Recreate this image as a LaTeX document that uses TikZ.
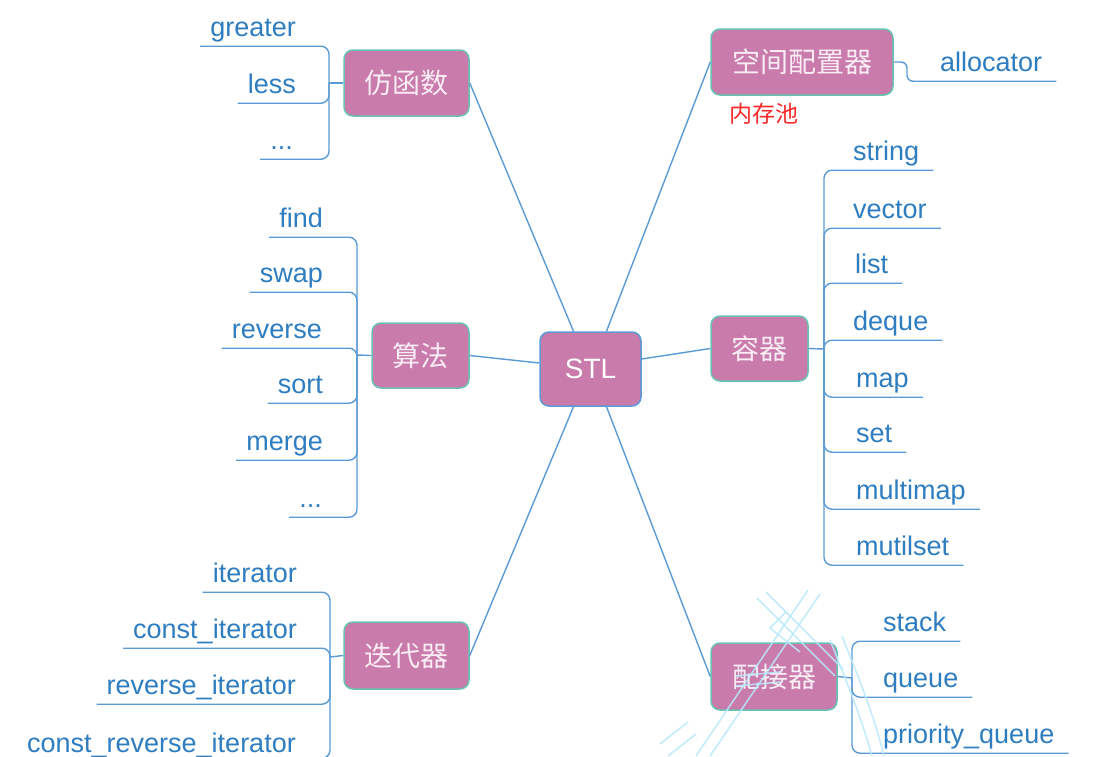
\documentclass[tikz,border=0pt]{standalone}
\usepackage{fontspec}
\setmainfont{Liberation Sans}
\newfontfamily\cjk{Noto Sans CJK SC}
\usetikzlibrary{calc}
\definecolor{nfill}{RGB}{201,123,171}
\definecolor{nborder}{RGB}{104,196,178}
\definecolor{cborder}{RGB}{91,155,213}
\definecolor{lnc}{RGB}{91,155,213}
\definecolor{leaftxt}{RGB}{46,125,192}
\definecolor{ntxt}{RGB}{250,236,245}
\definecolor{wmc}{RGB}{185,233,252}
\definecolor{redtxt}{RGB}{250,40,40}
\begin{document}
\begin{tikzpicture}[x=1pt,y=-1pt,
  box/.style={draw=nborder, fill=nfill, line width=1.5pt, rounded corners=9pt,
    text=ntxt, font=\cjk\fontsize{28}{28}\selectfont, inner sep=0pt},
  leafL/.style={anchor=base east, text=leaftxt, font=\fontsize{27}{27}\selectfont,
    inner xsep=10pt, inner ysep=0pt, text depth=10pt},
  leafR/.style={anchor=base west, text=leaftxt, font=\fontsize{27}{27}\selectfont,
    inner xsep=14pt, inner ysep=0pt, text depth=10pt},
  link/.style={draw=lnc, line width=1.4pt},
  brk/.style={link, rounded corners=8pt},
  wm/.style={draw=wmc, line width=1.6pt, opacity=0.85}
]
\useasboundingbox (0,0) rectangle (1120,756);
\clip (0,0) rectangle (1120,756);
\fill[white] (0,0) rectangle (1120,756);

% main nodes
\node[box, minimum width=125pt, minimum height=66pt] (fhs) at (406.5,83) {仿函数};
\node[box, minimum width=182pt, minimum height=66pt] (kj) at (802,62) {空间配置器};
\node[box, minimum width=97pt, minimum height=65pt] (sf) at (420.5,355.5) {算法};
\node[box, draw=cborder, text=white, font=\fontsize{28}{28}\selectfont,
      minimum width=101pt, minimum height=74pt] (stl) at (590.5,369) {STL};
\node[box, minimum width=97pt, minimum height=65pt] (rq) at (759.5,348.5) {容器};
\node[box, minimum width=125pt, minimum height=67pt] (ddq) at (406.5,655.5) {迭代器};
\node[box, minimum width=126pt, minimum height=67pt] (pjq) at (774,676.5) {配接器};
\node[text=redtxt, font=\cjk\fontsize{23}{23}\selectfont, inner sep=0pt] (ncc) at (763.5,114) {内存池};

% links from STL
\draw[link] ($(stl.north)+(-17,0)$) -- (fhs.east);
\draw[link] ($(stl.north)+(16,0)$) -- (kj.west);
\draw[link] ($(stl.west)+(0,-6)$) -- (sf.east);
\draw[link] ($(stl.east)+(0,-10)$) -- (rq.west);
\draw[link] ($(stl.south)+(-17,0)$) -- (ddq.east);
\draw[link] ($(stl.south)+(16,0)$) -- (pjq.west);

% 仿函数 leaves
\node[leafL] (greater) at (306,36) {greater};
\node[leafL] (less) at (306,93) {less};
\node[leafL] (fdots) at (303,149) {...};
\coordinate (fhsj) at (329,83);
\draw[link] (fhs.west) -- (fhsj);
\draw[brk] (fhsj) |- (greater.south west);
\draw[brk] (fhsj) |- (less.south west);
\draw[brk] (fhsj) |- (fdots.south west);

% 算法 leaves
\node[leafL] (find) at (333,227) {find};
\node[leafL] (swap) at (333,282) {swap};
\node[leafL] (reverse) at (332,338) {reverse};
\node[leafL] (sort) at (333,393) {sort};
\node[leafL] (merge) at (333,450) {merge};
\node[leafL] (sdots) at (332,507) {...};
\coordinate (sfj) at (357,355);
\draw[link] (sf.west) -- (sfj);
\foreach \n in {find,swap,reverse,sort,merge,sdots}
  \draw[brk] (sfj) |- (\n.south west);

% 迭代器 leaves
\node[leafL] (it) at (307,582) {iterator};
\node[leafL] (cit) at (307,638) {const\_iterator};
\node[leafL] (rit) at (306,694) {reverse\_iterator};
\node[leafL, text depth=6pt] (crit) at (306,752) {const\_reverse\_iterator};
\coordinate (ddqj) at (330,657);
\draw[link] (ddq.west) -- (ddqj);
\foreach \n in {it,cit,rit,crit}
  \draw[brk] (ddqj) |- (\n.south west);

% 容器 leaves
\node[leafR] (string) at (839,160) {string};
\node[leafR] (vector) at (839,218) {vector};
\node[leafR] (list) at (841,273) {list};
\node[leafR] (deque) at (839,330) {deque};
\node[leafR] (map) at (842,387) {map};
\node[leafR] (set) at (842,442) {set};
\node[leafR] (multimap) at (842,499) {multimap};
\node[leafR] (mutilset) at (842,555) {mutilset};
\coordinate (rqj) at (824,349);
\draw[link] (rq.east) -- (rqj);
\foreach \n in {string,vector,list,deque,map,set,multimap,mutilset}
  \draw[brk] (rqj) |- (\n.south east);

% 配接器 leaves
\node[leafR] (stack) at (869,631) {stack};
\node[leafR] (queue) at (869,687) {queue};
\node[leafR] (pq) at (869,743) {priority\_queue};
\coordinate (pjqj) at (852,678);
\draw[link] (pjq.east) -- (pjqj);
\foreach \n in {stack,queue,pq}
  \draw[brk] (pjqj) |- (\n.south east);

% 空间配置器 leaf
\node[leafR] (alloc) at (926,71) {allocator};
\coordinate (kjj) at (907,62);
\draw[link, rounded corners=6pt] (kj.east) -- (kjj) |- (alloc.south east);

% watermark (faint)
\begin{scope}[wm]
\draw (808,590) -- (696,756);
\draw (820,594) -- (710,756);
\draw (757,598) -- (835,676);
\draw (766,592) -- (843,669);
\draw (786,612) -- (770,628) -- (800,652);
\draw (830,640) .. controls (850,690) and (862,720) .. (872,756);
\draw (842,636) .. controls (862,686) and (874,716) .. (884,756);
\draw (736,676) -- (780,672);
\draw (736,686) -- (780,682);
\draw (660,744) -- (688,722);
\draw (668,756) -- (696,734);
\end{scope}
\end{tikzpicture}
\end{document}
